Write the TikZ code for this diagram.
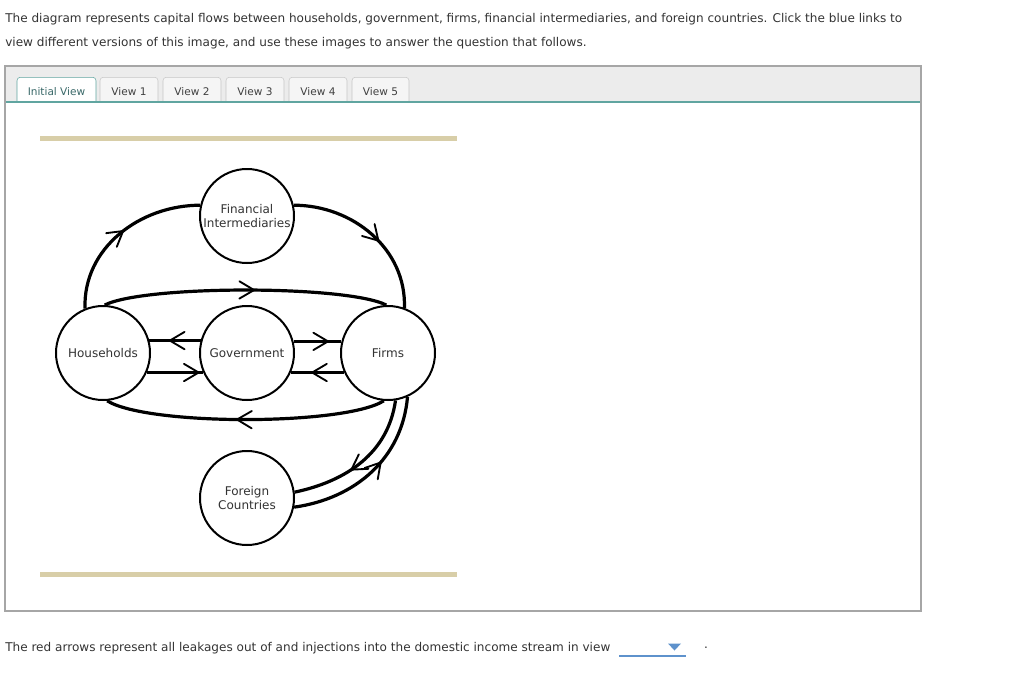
\documentclass[tikz,border=0pt]{standalone}
\usepackage{fontspec}
\setmainfont{DejaVu Sans}
\usetikzlibrary{arrows.meta,decorations.markings}
\definecolor{txtgray}{RGB}{51,51,51}
\definecolor{tabteal}{RGB}{96,165,160}
\definecolor{tabtext}{RGB}{58,105,105}
\definecolor{hdrgray}{RGB}{236,236,236}
\definecolor{tabfill}{RGB}{245,245,245}
\definecolor{rulebeige}{RGB}{216,206,168}
\definecolor{linkblue}{RGB}{94,146,204}

\begin{document}
\begin{tikzpicture}[x=0.75pt,y=0.75pt,font=\fontsize{9.05}{11}\selectfont,
    sector/.style={circle,draw,line width=1.5pt,fill=white,minimum size=70.5pt,inner sep=0pt,
      align=center,text=txtgray,font=\fontsize{9}{10.5}\selectfont},
    flow/.style={line width=2.4pt,postaction={decorate},decoration={markings,
      mark=at position #1 with {\draw[line width=1.4pt,line cap=round] (-11pt,6.5pt) -- (0,0) -- (-11pt,-6.5pt);}}},
    tab/.style={draw=black!22,fill=tabfill,rounded corners=2.5pt,minimum height=21pt,inner sep=0pt,
      anchor=north,text=black!75,font=\fontsize{7.9}{10}\selectfont}]
  \useasboundingbox (0,0) rectangle (1024,-675);
  % question text
  \node[anchor=west,inner sep=0,text=txtgray] (intro1) at (5,-19.5) {The diagram represents capital flows between households, government, firms, financial intermediaries, and foreign countries. Click the blue links to};
  \node[anchor=west,inner sep=0,text=txtgray] (intro2) at (5,-43.5) {view different versions of this image, and use these images to answer the question that follows.};
  % panel and tabs
  \fill[hdrgray] (5,-66) rectangle (921,-102);
  \node[tab,draw=tabteal,fill=white,text=tabtext,minimum width=59.25pt] (tab0) at (56.5,-77) {Initial View};
  \node[tab,minimum width=43.5pt] (tab1) at (129,-77) {View 1};
  \node[tab,minimum width=43.5pt] (tab2) at (192,-77) {View 2};
  \node[tab,minimum width=43.5pt] (tab3) at (255,-77) {View 3};
  \node[tab,minimum width=43.5pt] (tab4) at (318,-77) {View 4};
  \node[tab,minimum width=42.75pt] (tab5) at (380.5,-77) {View 5};
  \fill[white] (5,-102) rectangle (921,-611);
  \draw[tabteal,line width=0.9pt] (5,-102) -- (921,-102);
  \draw[black!35,line width=0.9pt] (5,-66) rectangle (921,-611);
  \draw[rulebeige,line width=3.2pt] (40,-138.5) -- (457,-138.5);
  \draw[rulebeige,line width=3.2pt] (40,-574.5) -- (457,-574.5);
  % sectors
  \node[sector] (fi) at (247,-216) {Financial\\Intermediaries};
  \node[sector] (hh) at (103,-353) {Households};
  \node[sector] (gov) at (247,-353) {Government};
  \node[sector] (firms) at (388,-353) {Firms};
  \node[sector] (fc) at (247,-498) {Foreign\\Countries};
  % flows
  \draw[flow=0.52] (hh.112) to[out=92,in=180] (fi.167);
  \draw[flow=0.56] (fi.13) to[out=0,in=88] (firms.70);
  \draw[flow=0.53] (hh.88) .. controls +(40,20) and +(-40,20) .. (firms.92);
  \draw[flow=0.53] (firms.265) .. controls +(-40,-25) and +(40,-25) .. (hh.275);
  \draw[flow=0.6] (gov.165) -- (hh.15);
  \draw[flow=0.92] (hh.-24) -- (gov.204);
  \draw[flow=0.72] (gov.14) -- (firms.166);
  \draw[flow=0.6] (firms.204) -- (gov.-24);
  \draw[flow=0.58] (firms.279) to[out=-98,in=12] (fc.7);
  \draw[flow=0.58] (fc.-11) to[out=8,in=-95] (firms.294);
  % question line
  \node[anchor=west,inner sep=0,text=txtgray] (ask) at (5,-648.5) {The red arrows represent all leakages out of and injections into the domestic income stream in view};
  \coordinate (dropL) at (619,-656);
  \coordinate (dropR) at (686,-656);
  \draw[linkblue,line width=1.5pt] (dropL) -- (dropR);
  \fill[linkblue] (668,-643.5) -- (681,-643.5) -- (674.5,-650.5) -- cycle;
  \node[inner sep=0,text=txtgray] (dot) at (706,-648) {.};
\end{tikzpicture}
\end{document}
